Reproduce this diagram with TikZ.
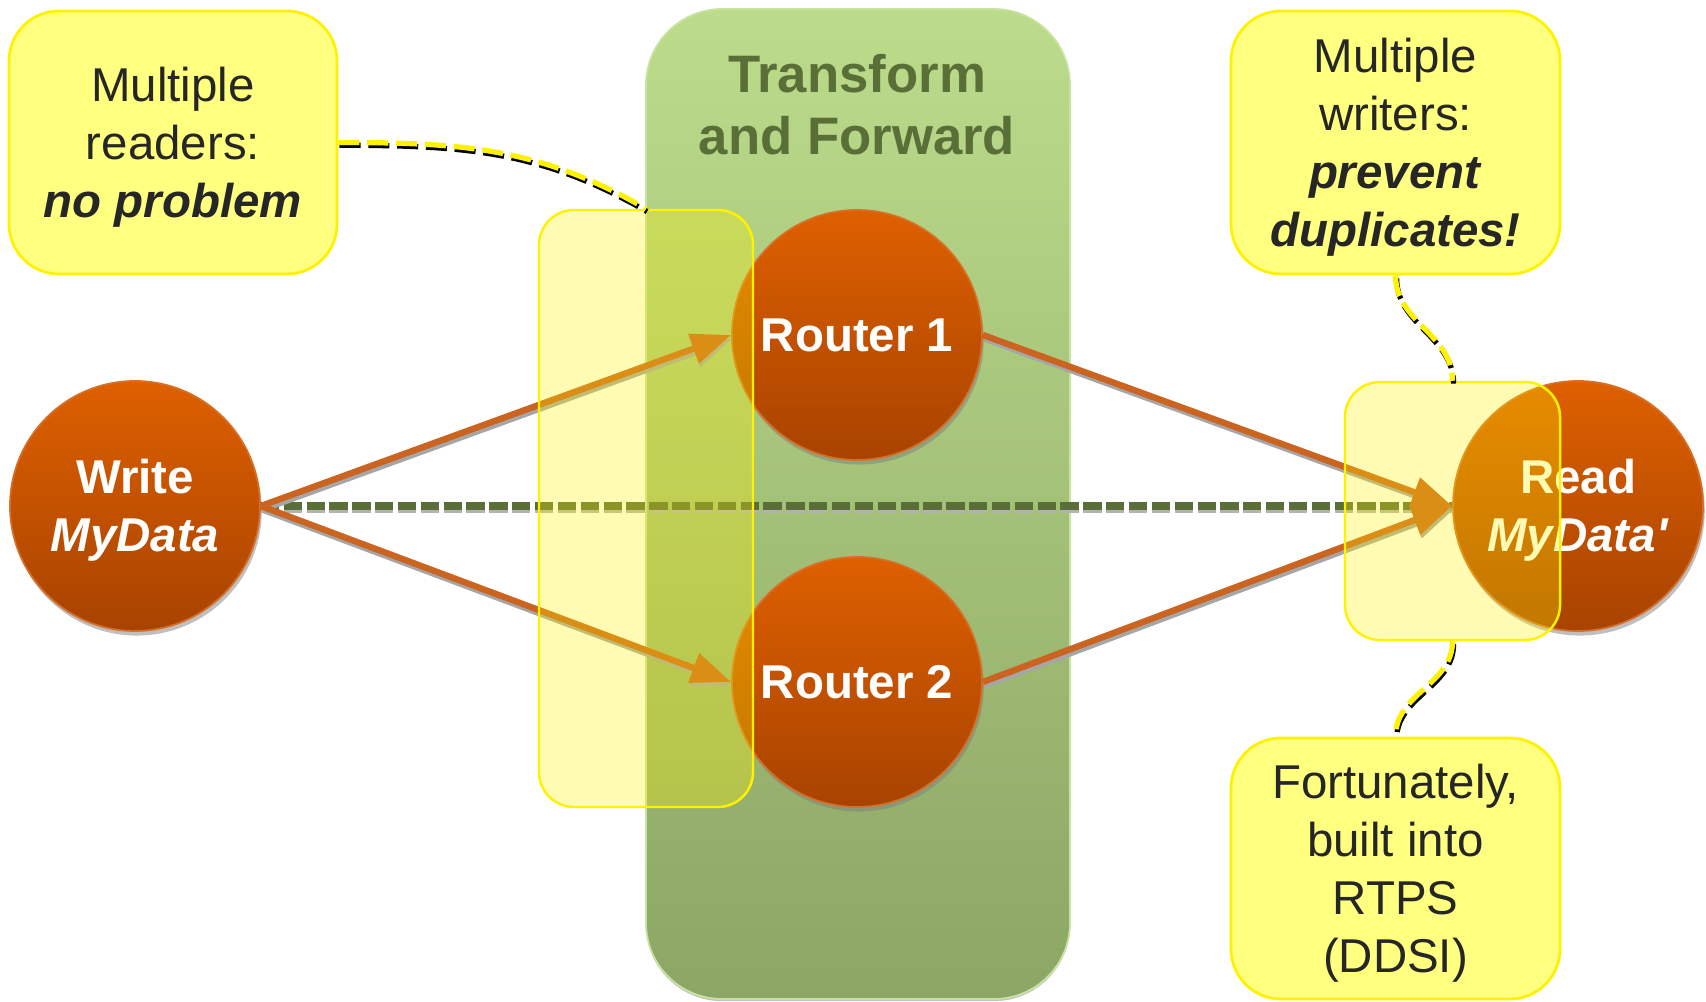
\documentclass[tikz,border=0pt]{standalone}
\usepackage{fontspec}
\setmainfont{Liberation Sans}[Ligatures=TeXOff]
\usetikzlibrary{positioning, calc}
\usetikzlibrary{arrows.meta,shadows}

\definecolor{boxyellow}{RGB}{255,255,128}
\definecolor{inkgray}{RGB}{38,38,38}
\definecolor{fwdgreen}{RGB}{90,110,56}
\definecolor{paneltop}{RGB}{188,220,139}
\definecolor{panelbot}{RGB}{140,166,101}
\definecolor{nodetop}{RGB}{222,96,0}
\definecolor{nodebot}{RGB}{168,67,0}
\definecolor{noderim}{RGB}{214,112,40}
\definecolor{flowcol}{RGB}{203,100,32}

% line box strut, so the text sits as in the slide
\newcommand{\ascstrut}{\rule{0pt}{0.905em}}

\begin{document}
\begin{tikzpicture}[
  every node/.style={font=\fontsize{13.5}{16.5}\selectfont, align=center},
  panel/.style={rounded corners=0.76cm, minimum width=4.24cm, minimum height=9.9cm,
    top color=paneltop, bottom color=panelbot, draw=paneltop!80!white, line width=0.5pt,
    drop shadow={shadow xshift=0pt, shadow yshift=-0.6pt, fill=black!40, opacity=0.6}},
  station/.style={circle, minimum size=2.5cm, inner sep=0pt, top color=nodetop, bottom color=nodebot,
    draw=noderim, line width=0.5pt, text=white, font=\fontsize{13.5}{16.5}\selectfont\bfseries,
    drop shadow={shadow xshift=0.5pt, shadow yshift=-1.3pt, fill=black!50, opacity=0.5}},
  note/.style={rounded corners=0.5cm, fill=boxyellow, draw=yellow, line width=0.8pt, text=inkgray,
    minimum width=3.28cm, minimum height=2.63cm},
  veil/.style={rounded corners=0.35cm, fill=yellow, fill opacity=0.3, draw=yellow, draw opacity=1, line width=0.7pt},
  feed/.style={draw=flowcol, line width=1.8pt, -{Triangle[length=0.4cm,width=0.3cm]},
    preaction={draw=gray!70, line width=1.8pt, -{Triangle[length=0.4cm,width=0.3cm]},
      transform canvas={xshift=0.4pt,yshift=-1pt}}},
  direct/.style={draw=fwdgreen, line width=2pt, dash pattern=on 5.2pt off 1.3pt,
    preaction={draw=gray!60, line width=2pt, dash pattern=on 5.2pt off 1.3pt, transform canvas={yshift=-1.1pt}}},
  callline/.style={draw=yellow, line width=1.5pt, dash pattern=on 6pt off 2.2pt,
    preaction={draw=black, line width=1.5pt, dash pattern=on 6pt off 2.2pt, transform canvas={xshift=0.3pt,yshift=-0.8pt}}}
]
\useasboundingbox (0,0) rectangle (17.06,10.01);

% middle panel
\draw (8.58,4.97) node[panel](fwd){}
      (8.57,8.96) node[text=fwdgreen, font=\fontsize{15}{17.6}\selectfont\bfseries](fwdtitle){Transform\\and Forward};

% writer, routers, reader
\draw (1.35,4.95)  node[station](write){\ascstrut Write\\\textit{MyData}}
      (8.57,6.66)  node[station](r1){Router 1}
      (8.57,3.19)  node[station](r2){Router 2}
      (15.78,4.95) node[station](read){\ascstrut Read\\\textit{MyData'}};

\draw[direct] (write.east) -- (read.west);
\path (write.east) edge[feed] (r1.west)
      (write.east) edge[feed] (r2.west)
      (r1.east) edge[feed] (read.west)
      (r2.east) edge[feed] (read.west);

% highlight boxes
\draw (6.46,4.925) node[veil, minimum width=2.14cm, minimum height=5.97cm](lbox){}
      (14.525,4.90) node[veil, minimum width=2.15cm, minimum height=2.58cm](rbox){};

% callouts
\draw (1.73,8.585)  node[note](readers){\ascstrut Multiple\\readers:\\\textbf{\textit{no problem}}}
      (13.955,8.585) node[note, minimum width=3.29cm](writers){\ascstrut Multiple\\writers:\\\textbf{\textit{prevent}}\\\textbf{\textit{duplicates!}}}
      (13.955,1.325) node[note, minimum width=3.29cm, minimum height=2.61cm](ddsi){\ascstrut Fortunately,\\built into\\RTPS\\(DDSI)};

\draw[callline] (readers.east) to[out=0,in=150] (lbox.north);
\draw[callline] (writers.south) to[out=-90,in=90] (rbox.north);
\draw[callline] (rbox.south) to[out=-90,in=90] (ddsi.north);
\end{tikzpicture}
\end{document}
